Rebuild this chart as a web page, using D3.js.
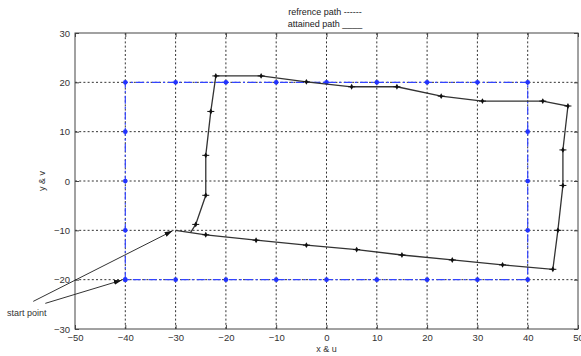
<!DOCTYPE html>
<html>
<head>
<meta charset="utf-8">
<script src="https://cdn.jsdelivr.net/npm/d3@7"></script>
<style>
  body { margin: 0; background: #fff; }
  svg { display: block; font-family: "Liberation Sans", Arial, sans-serif; }
  .tick text { fill: #333; }
</style>
</head>
<body>
<div id="chart"></div>
<script>
// reference path (blue dash-dot rectangle with grid markers)
var refX = [-40, -40, -40, -40, -40, -30, -20, -10, 0, 10, 20, 30, 40, 40, 40, 40, 40, 30, 20, 10, 0, -10, -20, -30, -40];
var refY = [-20, -10, 0, 10, 20, 20, 20, 20, 20, 20, 20, 20, 20, 10, 0, -10, -20, -20, -20, -20, -20, -20, -20, -20, -20];

// attained path
var pathX = [-30, -24, -14, -4, 6, 15, 25, 35, 45, 46, 47, 47, 48, 43, 31, 22.8, 14, 5, -4, -13, -22, -23, -24, -24, -26, -27];
var pathY = [-10, -10.9, -12, -13, -13.9, -15, -16, -17, -17.9, -10, -0.9, 6.3, 15.2, 16.2, 16.2, 17.2, 19.1, 19.1, 20.1, 21.3, 21.3, 14.1, 5.2, -2.9, -8.8, -10.4];
// which of the attained points carry a marker
var pathMarked = [0, 1, 1, 1, 1, 1, 1, 1, 1, 1, 1, 1, 1, 1, 1, 1, 1, 1, 1, 1, 1, 1, 1, 1, 1, 0];

var xTicks = [-50, -40, -30, -20, -10, 0, 10, 20, 30, 40, 50];
var yTicks = [-30, -20, -10, 0, 10, 20, 30];

// "start point" arrows: tail -> tip in data units
var arrowTail = [[-58.3, -24.4], [-55.9, -24.8]];
var arrowTip = [[-30.6, -10.1], [-40.7, -20.1]];

var width = 581, height = 356;
var margin = {top: 33, right: 3, bottom: 27, left: 75};

var svg = d3.select("#chart").append("svg")
  .attr("width", width).attr("height", height);

var x = d3.scaleLinear().domain([-50, 50]).range([margin.left, width - margin.right]);
var y = d3.scaleLinear().domain([-30, 30]).range([height - margin.bottom, margin.top]);

// title lines
svg.append("text").attr("x", 325).attr("y", 15).attr("text-anchor", "middle")
  .style("font-size", "9px").attr("fill", "#222").text("refrence path ------");
svg.append("text").attr("x", 325).attr("y", 27).attr("text-anchor", "middle")
  .style("font-size", "9px").attr("fill", "#222").text("attained path ____");

// dotted grid
var grid = svg.append("g").attr("stroke", "#333").attr("stroke-width", 1)
  .attr("stroke-dasharray", "2,2.2");
grid.selectAll(".gx").data(xTicks.slice(1, -1)).enter().append("line")
  .attr("x1", function(d){ return x(d); }).attr("x2", function(d){ return x(d); })
  .attr("y1", y(30)).attr("y2", y(-30));
grid.selectAll(".gy").data(yTicks.slice(1, -1)).enter().append("line")
  .attr("y1", function(d){ return y(d); }).attr("y2", function(d){ return y(d); })
  .attr("x1", x(-50)).attr("x2", x(50));

// reference path
var refPts = refX.map(function(d, i){ return [d, refY[i]]; });
svg.append("path")
  .attr("d", d3.line().x(function(d){ return x(d[0]); }).y(function(d){ return y(d[1]); })(refPts))
  .attr("fill", "none").attr("stroke", "#3344ff").attr("stroke-width", 1.2)
  .attr("stroke-dasharray", "8,3,2,3");
svg.selectAll(".refdot").data(refPts).enter().append("circle")
  .attr("cx", function(d){ return x(d[0]); }).attr("cy", function(d){ return y(d[1]); })
  .attr("r", 2.3).attr("fill", "#2233ff");

// attained path
var pts = pathX.map(function(d, i){ return [d, pathY[i], pathMarked[i]]; });
svg.append("path")
  .attr("d", d3.line().x(function(d){ return x(d[0]); }).y(function(d){ return y(d[1]); })(pts))
  .attr("fill", "none").attr("stroke", "#333").attr("stroke-width", 1.3);
var mk = svg.selectAll(".mk").data(pts.filter(function(d){ return d[2]; })).enter().append("g")
  .attr("transform", function(d){ return "translate(" + [x(d[0]), y(d[1])] + ")"; });
mk.append("path").attr("d", d3.symbol().type(d3.symbolDiamond).size(10)).attr("fill", "#111");
mk.append("line").attr("x1", -3.5).attr("x2", 3.5).attr("stroke", "#111").attr("stroke-width", 1);

// frame
svg.append("rect").attr("x", x(-50)).attr("y", y(30))
  .attr("width", x(50) - x(-50)).attr("height", y(-30) - y(30))
  .attr("fill", "none").attr("stroke", "#444").attr("stroke-width", 1);

// axes with inward ticks
var xAxis = svg.append("g").attr("transform", "translate(0," + y(-30) + ")")
  .call(d3.axisBottom(x).tickValues(xTicks).tickSizeInner(-4).tickSizeOuter(0).tickPadding(5));
var xTop = svg.append("g").attr("transform", "translate(0," + y(30) + ")")
  .call(d3.axisTop(x).tickValues(xTicks).tickSizeInner(-4).tickSizeOuter(0).tickFormat(""));
var yAxis = svg.append("g").attr("transform", "translate(" + x(-50) + ",0)")
  .call(d3.axisLeft(y).tickValues(yTicks).tickSizeInner(-4).tickSizeOuter(0).tickPadding(5));
var yRight = svg.append("g").attr("transform", "translate(" + x(50) + ",0)")
  .call(d3.axisRight(y).tickValues(yTicks).tickSizeInner(-4).tickSizeOuter(0).tickFormat(""));
[xAxis, xTop, yAxis, yRight].forEach(function(a){
  a.select(".domain").remove();
  a.selectAll(".tick line").attr("stroke", "#444");
  a.selectAll("text").style("font-size", "9.5px");
});

// axis labels
svg.append("text").attr("x", x(0)).attr("y", 352).attr("text-anchor", "middle")
  .style("font-size", "9px").attr("fill", "#333").text("x & u");
svg.append("text").attr("transform", "translate(45," + y(0) + ") rotate(-90)")
  .attr("text-anchor", "middle").style("font-size", "9px").attr("fill", "#333").text("y & v");

// start point annotation
svg.append("defs").append("marker").attr("id", "ah")
  .attr("viewBox", "0 -3 8 6").attr("refX", 8).attr("refY", 0)
  .attr("markerWidth", 8).attr("markerHeight", 6).attr("markerUnits", "userSpaceOnUse")
  .attr("orient", "auto")
  .append("path").attr("d", "M0,-2.5L8,0L0,2.5Z").attr("fill", "#111");
svg.selectAll(".arrow").data(arrowTail).enter().append("line")
  .attr("x1", function(d){ return x(d[0]); }).attr("y1", function(d){ return y(d[1]); })
  .attr("x2", function(d, i){ return x(arrowTip[i][0]); })
  .attr("y2", function(d, i){ return y(arrowTip[i][1]); })
  .attr("stroke", "#333").attr("stroke-width", 1).attr("marker-end", "url(#ah)");
svg.append("text").attr("x", 7).attr("y", 316)
  .style("font-size", "9px").attr("fill", "#333").text("start point");
</script>
</body>
</html>
